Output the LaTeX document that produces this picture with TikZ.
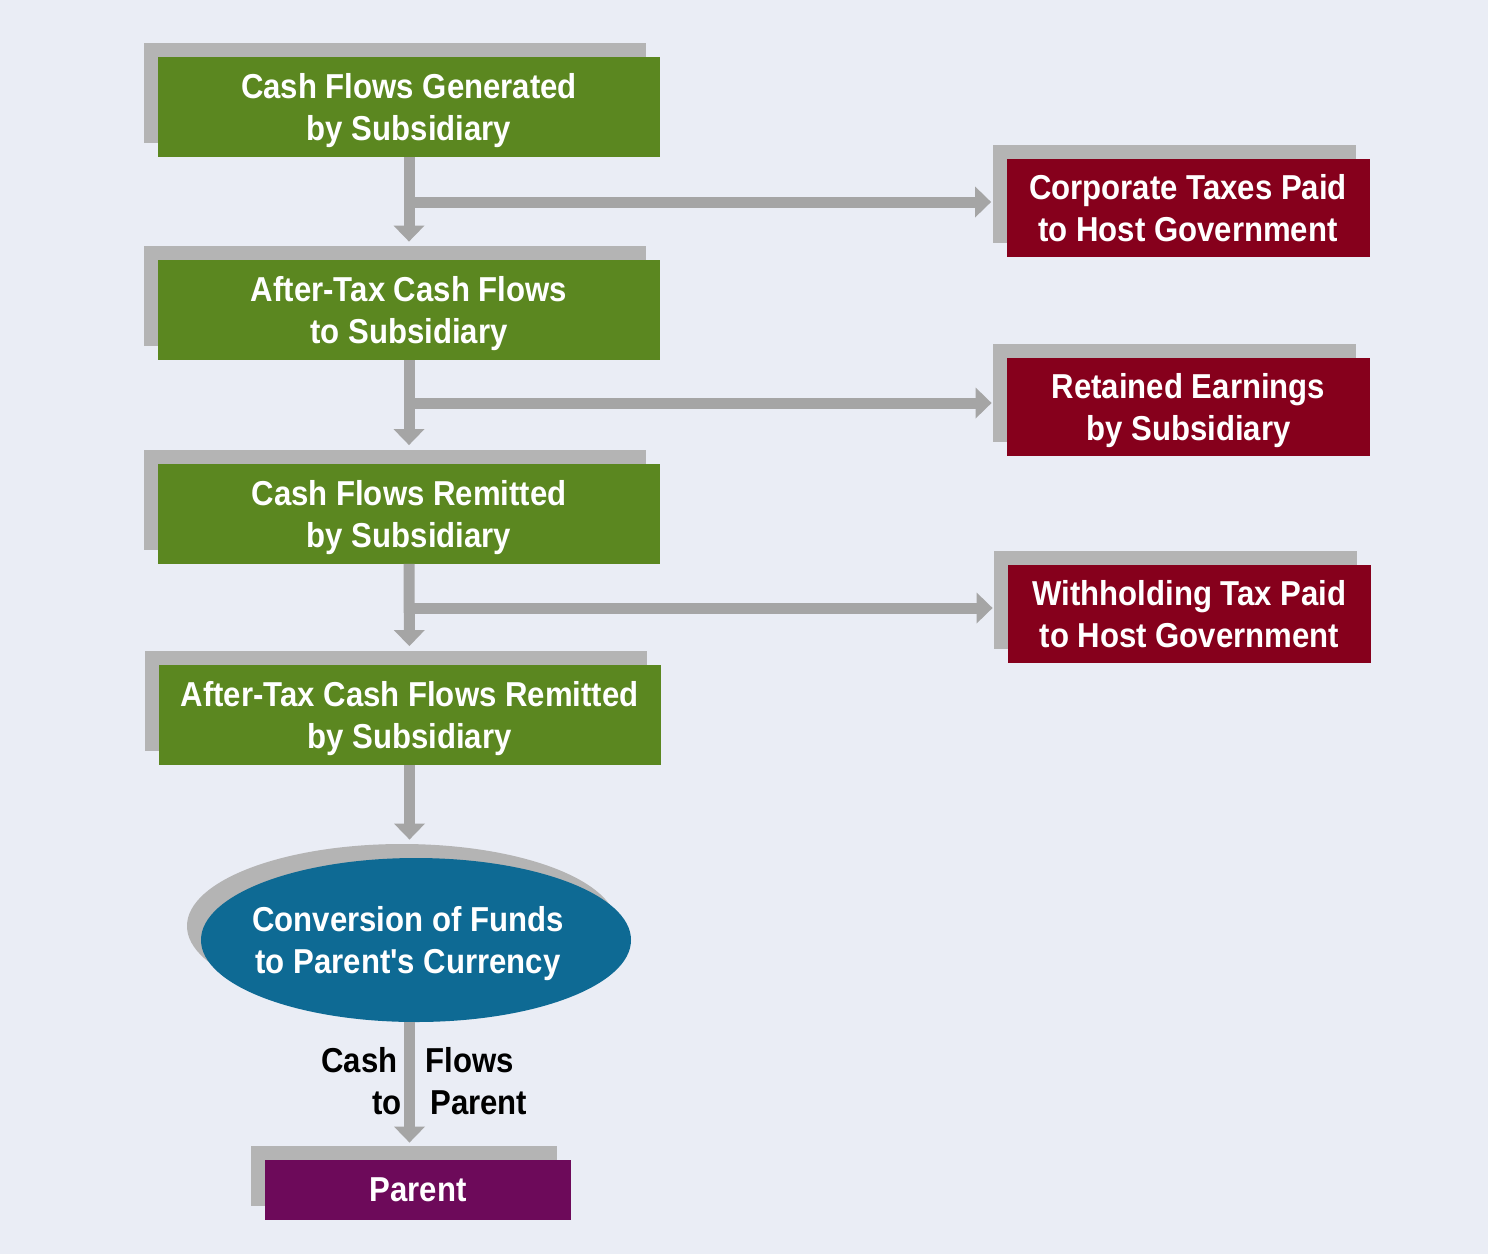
\documentclass[tikz,border=0pt]{standalone}
\usepackage{fontspec}
\setmainfont{Liberation Sans}[FakeStretch=0.9, Ligatures=TeXOff]
\usetikzlibrary{arrows.meta,shapes.geometric,shadows,calc}
\definecolor{bg}{RGB}{234,237,245}
\definecolor{boxgreen}{RGB}{91,135,32}
\definecolor{boxred}{RGB}{134,0,28}
\definecolor{boxpurple}{RGB}{109,10,90}
\definecolor{boxblue}{RGB}{14,106,148}
\definecolor{shgray}{RGB}{180,180,180}
\definecolor{arrgray}{RGB}{165,165,165}
\tikzset{
  txt/.style={font=\bfseries\fontsize{17.3pt}{21pt}\selectfont, text=white, align=center, inner sep=0pt, text depth=0pt},
  shd/.style={general shadow={fill=shgray, shadow xshift=-7pt, shadow yshift=7pt}},
  gbox/.style={txt, shd, rectangle, fill=boxgreen, minimum width=251pt, minimum height=50pt},
  rbox/.style={txt, shd, rectangle, fill=boxred, minimum width=181.5pt, minimum height=49pt},
  pbox/.style={txt, shd, rectangle, fill=boxpurple, minimum width=153pt, minimum height=30pt},
  ebox/.style={shd, ellipse, fill=boxblue, minimum width=215pt, minimum height=82pt, inner sep=0pt},
  arr/.style={draw=arrgray, line width=5.5pt, -{Triangle[width=15pt,length=8pt]}},
  lbl/.style={font=\bfseries\fontsize{17.3pt}{21pt}\selectfont, text=black, inner sep=0pt}
}
\begin{document}
\begin{tikzpicture}[x=0.5pt,y=-0.5pt]
\fill[bg] (0,0) rectangle (1488,1254);
\useasboundingbox (0,0) rectangle (1488,1254);
% green column
\node[gbox] (g1) at (409,107) {Cash Flows Generated\\by Subsidiary};
\node[gbox] (g2) at (409,310) {After-Tax Cash Flows\\to Subsidiary};
\node[gbox] (g3) at (409,513.5) {Cash Flows Remitted\\by Subsidiary};
\node[gbox] (g4) at (409.5,714.5) {After-Tax Cash Flows Remitted\\by Subsidiary};
% red column
\node[rbox] (r1) at (1188,207.5) {Corporate Taxes Paid\\to Host Government};
\node[rbox] (r2) at (1188.5,407) {Retained Earnings\\by Subsidiary};
\node[rbox] (r3) at (1189.5,613.5) {Withholding Tax Paid\\to Host Government};
% ellipse
\node[ebox] (conv) at (416,940) {};
\node[txt] (convt) at (408,940) {Conversion of Funds\\to Parent's Currency};
% parent
\node[pbox] (par) at (418,1190) {Parent};
% junctions
\coordinate (j1) at (410,202);
\coordinate (j2) at (410,403);
\coordinate (j3) at (410,608);
% vertical arrows
\draw[arr, shorten >=9pt] (g1.south) -- (g2.north);
\draw[arr, shorten >=9pt] (g2.south) -- (g3.north);
\draw[arr, shorten >=9pt] (g3.south) -- (g4.north);
\draw[arr, shorten >=9pt] (g4.south) -- (g4.south |- conv.north);
\draw[arr, shorten >=8.5pt] (g4.south |- conv.south) -- (g4.south |- par.north);
% horizontal arrows
\draw[arr, shorten >=7.5pt] (j1) -- (j1 -| r1.west);
\draw[arr, shorten >=7.5pt] (j2) -- (j2 -| r2.west);
\draw[arr, shorten >=7.5pt] (j3) -- (j3 -| r3.west);
% labels
\node[lbl, anchor=east] (l1) at (398,1060) {Cash};
\node[lbl, anchor=west] (l2) at (425,1060) {Flows};
\node[lbl, anchor=east] (l3) at (402,1103) {to};
\node[lbl, anchor=west] (l4) at (430,1103) {Parent};
\end{tikzpicture}
\end{document}
